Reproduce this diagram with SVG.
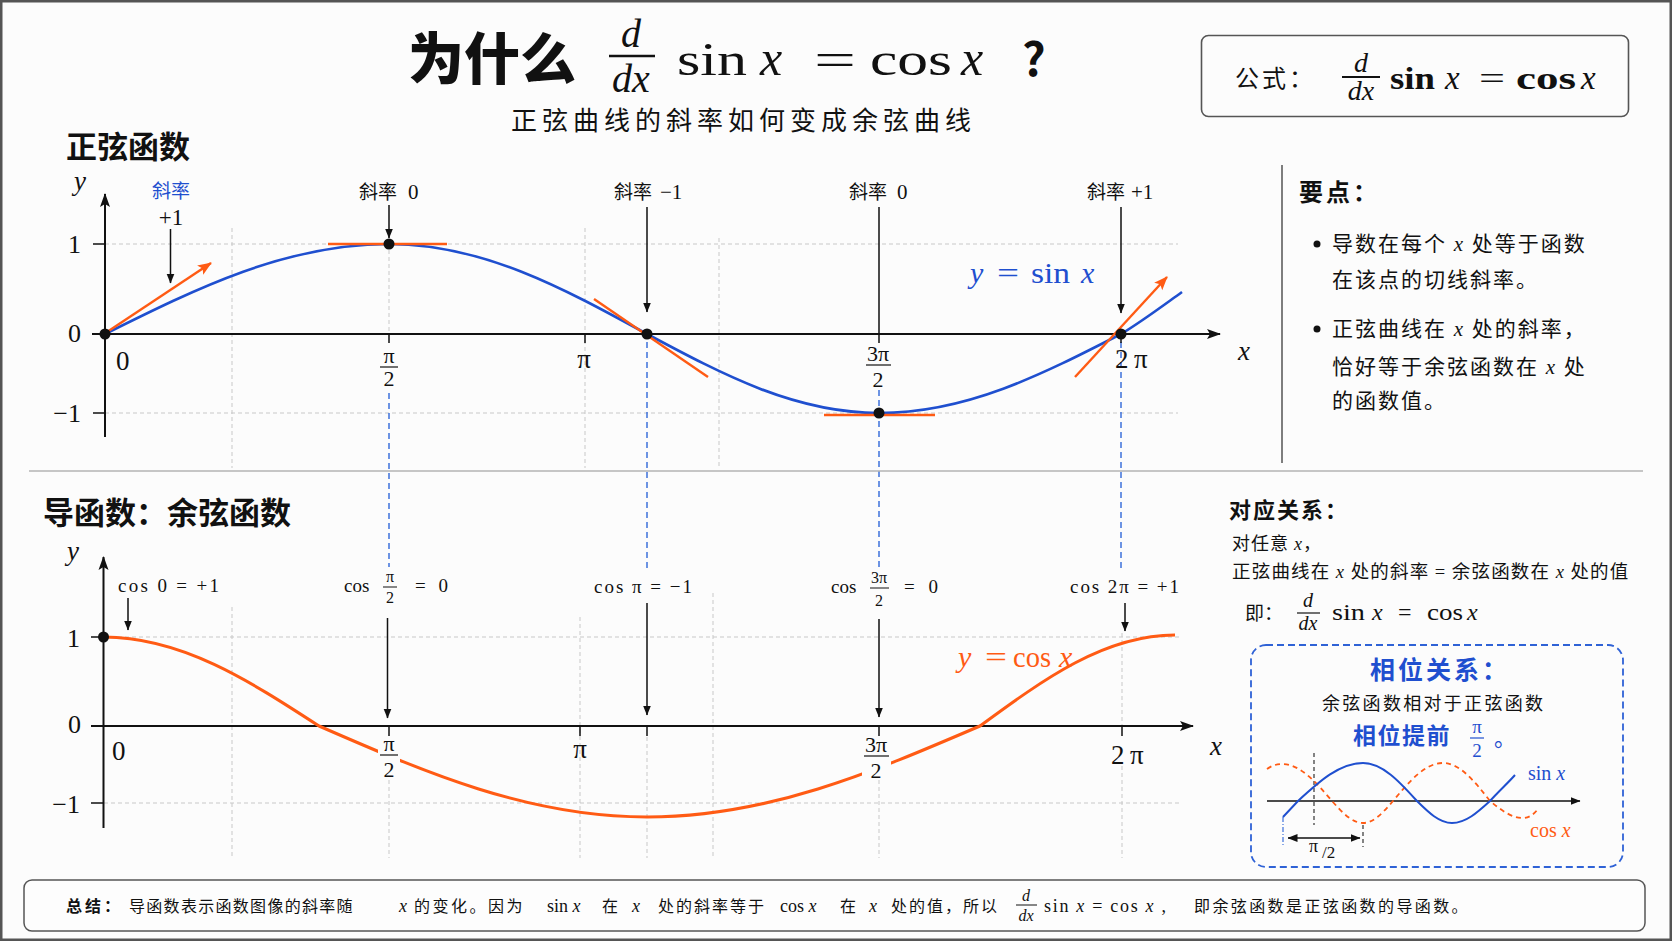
<svg xmlns="http://www.w3.org/2000/svg" width="1672" height="941" viewBox="0 0 1672 941">
<defs>
<style>
.cjk{font-family:"Noto Sans CJK SC","Noto Sans",sans-serif;fill:#111}
.m{font-family:"Liberation Serif","DejaVu Serif",serif;fill:#111}
.i{font-family:"Liberation Serif","DejaVu Serif",serif;font-style:italic;fill:#111}
.bo{font-weight:700}
.b{fill:#1f4fcf}
.o{fill:#ff5b14}
.grid{stroke:#c8c8c8;stroke-width:1;stroke-dasharray:4 3;fill:none}
.bd{stroke:#3d70da;stroke-width:1.5;stroke-dasharray:6 4;fill:none}
.ax{stroke:#111;stroke-width:2;fill:none}
.tk{stroke:#111;stroke-width:1.5;fill:none}
.ar{stroke:#111;stroke-width:1.5;fill:none;marker-end:url(#ah)}
.sinc{stroke:#1f4fcf;stroke-width:2.6;fill:none}
.cosc{stroke:#ff5b14;stroke-width:3;fill:none}
.tan{stroke:#ff5b14;stroke-width:2.4;fill:none}
.dot{fill:#111}
.kn{fill:#fcfcfc}
</style>
<marker id="ah" markerUnits="userSpaceOnUse" markerWidth="10" markerHeight="10" refX="9.5" refY="5" orient="auto"><path d="M0,1 L10,5 L0,9 z" fill="#111"/></marker>
<marker id="ah2" markerUnits="userSpaceOnUse" markerWidth="10" markerHeight="10" refX="9.5" refY="5" orient="auto-start-reverse"><path d="M0,1 L10,5 L0,9 z" fill="#111"/></marker>
<marker id="axh" markerUnits="userSpaceOnUse" markerWidth="14" markerHeight="12" refX="13" refY="6" orient="auto"><path d="M0,1 L14,6 L0,11 L3,6 z" fill="#111"/></marker>
<marker id="oh" markerUnits="userSpaceOnUse" markerWidth="14" markerHeight="12" refX="13" refY="6" orient="auto"><path d="M0,0.5 L14,6 L0,11.5 L3,6 z" fill="#ff5b14"/></marker>
</defs>

<rect x="1.25" y="1.25" width="1669.5" height="938.5" fill="#fcfcfc" stroke="#555" stroke-width="2.5"/>

<g id="title">
<text class="cjk" x="408" y="79" font-size="56" font-weight="900">为什么</text>
<text class="i" x="631" y="47" font-size="40" text-anchor="middle">d</text>
<line x1="609" y1="56" x2="655" y2="56" stroke="#111" stroke-width="2.5"/>
<text class="i" x="631" y="92" font-size="40" text-anchor="middle">dx</text>
<text class="m" x="677" y="75" font-size="46" textLength="70" lengthAdjust="spacingAndGlyphs">sin</text>
<text class="i" x="760" y="75" font-size="50">x</text>
<text class="m" x="814" y="75" font-size="46" textLength="42" lengthAdjust="spacingAndGlyphs">=</text>
<text class="m" x="870" y="75" font-size="46" textLength="82" lengthAdjust="spacingAndGlyphs">cos</text>
<text class="i" x="961" y="75" font-size="50">x</text>
<text class="cjk bo" x="1022" y="76" font-size="46">?</text>
<text class="cjk" x="511" y="130" font-size="26" letter-spacing="5">正弦曲线的斜率如何变成余弦曲线</text>
</g>

<g id="formula-box">
<rect x="1201.5" y="35.5" width="427" height="81" rx="7" fill="#fcfcfc" stroke="#555" stroke-width="1.6"/>
<text class="cjk" x="1235" y="87" font-size="24" letter-spacing="3">公式：</text>
<text class="i" x="1361" y="72" font-size="28" text-anchor="middle">d</text>
<line x1="1342" y1="77" x2="1380" y2="77" stroke="#111" stroke-width="1.8"/>
<text class="i" x="1361" y="100" font-size="28" text-anchor="middle">dx</text>
<text class="m bo" x="1390" y="89" font-size="32" textLength="45" lengthAdjust="spacingAndGlyphs">sin</text>
<text class="i" x="1445" y="89" font-size="33">x</text>
<text class="m" x="1479" y="89" font-size="32" textLength="26" lengthAdjust="spacingAndGlyphs">=</text>
<text class="m bo" x="1516" y="89" font-size="32" textLength="60" lengthAdjust="spacingAndGlyphs">cos</text>
<text class="i" x="1581" y="89" font-size="33">x</text>
</g>

<g id="sine-plot">
<text class="cjk bo" x="66" y="158" font-size="31">正弦函数</text>
<path class="grid" d="M105 244H1178 M105 413H1178 M232 228V468 M585 228V468 M719 238V468 M389 250V334"/>
<path class="bd" d="M389 393V567 M647 342V572 M879 390V406 M879 421V567 M1121 342V572"/>
<path class="ax" d="M92 334H1220" marker-end="url(#axh)"/>
<path class="ax" d="M105 437V194" marker-end="url(#axh)"/>
<path class="tk" d="M93 244H105 M93 413H105 M389 334V343 M585 334V343 M879 334V343 M1121 334V343"/>
<path class="sinc" d="M105 334 C197.6 287.9 286.2 244 389 244 C482.4 244 562.9 287.9 647 334 C722.7 374.5 795 413 879 413 C966.6 413 1042.1 374.5 1121 334 C1141 322 1161 307 1182 292"/>
<path class="tan" d="M107 332 L211 263" marker-end="url(#oh)"/>
<path class="tan" d="M328 244H447"/>
<path class="tan" d="M594 299L708 377"/>
<path class="tan" d="M824 415H935"/>
<path class="tan" d="M1075 377L1167 277" marker-end="url(#oh)"/>
<circle class="dot" cx="105" cy="334" r="5.5"/>
<circle class="dot" cx="389" cy="244" r="5.5"/>
<circle class="dot" cx="647" cy="334" r="5.5"/>
<circle class="dot" cx="879" cy="413" r="5.5"/>
<circle class="dot" cx="1121" cy="334" r="5.5"/>
<text class="i" x="74" y="190" font-size="27">y</text>
<text class="i" x="1238" y="360" font-size="27">x</text>
<text class="m" x="81" y="253" font-size="26" text-anchor="end">1</text>
<text class="m" x="81" y="342" font-size="26" text-anchor="end">0</text>
<text class="m" x="81" y="422" font-size="26" text-anchor="end">−1</text>
<text class="m" x="116" y="370" font-size="27">0</text>
<text class="m" x="389" y="363" font-size="22" text-anchor="middle">π</text>
<line x1="380" y1="367" x2="398" y2="367" stroke="#111" stroke-width="1.2"/>
<text class="m" x="389" y="386" font-size="22" text-anchor="middle">2</text>
<text class="m" x="584" y="368" font-size="27" text-anchor="middle">π</text>
<text class="m" x="878" y="361" font-size="22" text-anchor="middle">3π</text>
<line x1="866" y1="365" x2="891" y2="365" stroke="#111" stroke-width="1.2"/>
<text class="m" x="878" y="387" font-size="22" text-anchor="middle">2</text>
<text class="m" x="1115" y="368" font-size="27">2</text>
<text class="m" x="1134" y="368" font-size="27">π</text>
<text class="cjk b" x="171" y="198" font-size="19" text-anchor="middle">斜率</text>
<text class="m" x="171" y="225" font-size="23" text-anchor="middle">+1</text>
<text class="cjk" x="359" y="199" font-size="19">斜率</text>
<text class="m" x="408" y="199" font-size="21">0</text>
<text class="cjk" x="614" y="199" font-size="19">斜率</text>
<text class="m" x="660" y="199" font-size="21">−1</text>
<text class="cjk" x="849" y="199" font-size="19">斜率</text>
<text class="m" x="897" y="199" font-size="21">0</text>
<text class="cjk" x="1087" y="199" font-size="19">斜率</text>
<text class="m" x="1131" y="199" font-size="21">+1</text>
<text class="i b" x="970" y="283" font-size="30">y</text>
<text class="m b" x="997" y="283" font-size="30" textLength="22" lengthAdjust="spacingAndGlyphs">=</text>
<text class="m b" x="1031" y="283" font-size="30" textLength="39" lengthAdjust="spacingAndGlyphs">sin</text>
<text class="i b" x="1081" y="283" font-size="30">x</text>
</g>

<g id="separators">
<line x1="29" y1="471" x2="1643" y2="471" stroke="#b5b5b5" stroke-width="1.5"/>
<line x1="1282" y1="165" x2="1282" y2="463" stroke="#555" stroke-width="1.5"/>
</g>

<g id="cosine-plot">
<text class="cjk bo" x="43" y="524" font-size="31">导函数：余弦函数</text>
<path class="grid" d="M104 637H1181 M104 803H1181 M232 607V858 M580 617V858 M713 593V858 M389 780V858 M647 737V858 M879 780V858 M1122 633V726 M1122 766V858"/>
<path class="ax" d="M91 726H1193" marker-end="url(#axh)"/>
<path class="ax" d="M103.5 828V557" marker-end="url(#axh)"/>
<path class="tk" d="M91 637H104 M91 803H104 M389 726V736 M580 726V736 M647 726V736 M879 726V736 M1122 726V736"/>
<path class="cosc" d="M103.5 637 C181.5 637 248.7 680.4 319 726 C426 772.6 528.3 817 647 817 C767.5 817 871.4 772.6 980 726 C1043.6 679.4 1104.4 635 1175 635"/>
<rect class="kn" x="378" y="738" width="22" height="42"/>
<rect class="kn" x="862" y="737" width="29" height="43"/>
<circle class="dot" cx="103.5" cy="637" r="5.5"/>
<text class="i" x="67" y="560" font-size="27">y</text>
<text class="i" x="1210" y="755" font-size="27">x</text>
<text class="m" x="80" y="647" font-size="26" text-anchor="end">1</text>
<text class="m" x="81" y="733" font-size="26" text-anchor="end">0</text>
<text class="m" x="80" y="813" font-size="26" text-anchor="end">−1</text>
<text class="m" x="112" y="760" font-size="27">0</text>
<text class="m" x="389" y="751" font-size="22" text-anchor="middle">π</text>
<line x1="380" y1="755" x2="398" y2="755" stroke="#111" stroke-width="1.2"/>
<text class="m" x="389" y="777" font-size="22" text-anchor="middle">2</text>
<text class="m" x="580" y="758" font-size="27" text-anchor="middle">π</text>
<text class="m" x="876" y="752" font-size="22" text-anchor="middle">3π</text>
<line x1="864" y1="756" x2="889" y2="756" stroke="#111" stroke-width="1.2"/>
<text class="m" x="876" y="778" font-size="22" text-anchor="middle">2</text>
<text class="m" x="1111" y="764" font-size="27">2</text>
<text class="m" x="1130" y="764" font-size="27">π</text>
<text class="m" x="118" y="592" font-size="19" textLength="101">cos 0 = +1</text>
<text class="m" x="344" y="592" font-size="19">cos</text>
<text class="m" x="390" y="582" font-size="16" text-anchor="middle">π</text>
<line x1="383" y1="587" x2="397" y2="587" stroke="#111" stroke-width="1"/>
<text class="m" x="390" y="603" font-size="16" text-anchor="middle">2</text>
<text class="m" x="415" y="592" font-size="19" textLength="33">= 0</text>
<text class="m" x="594" y="593" font-size="19" textLength="98">cos π = −1</text>
<text class="m" x="831" y="593" font-size="19">cos</text>
<text class="m" x="879" y="583" font-size="16" text-anchor="middle">3π</text>
<line x1="870" y1="588" x2="889" y2="588" stroke="#111" stroke-width="1"/>
<text class="m" x="879" y="606" font-size="16" text-anchor="middle">2</text>
<text class="m" x="904" y="593" font-size="19" textLength="34">= 0</text>
<text class="m" x="1070" y="593" font-size="19" textLength="109">cos 2π = +1</text>
<text class="i o" x="958" y="667" font-size="30">y</text>
<text class="m o" x="985" y="667" font-size="30" textLength="22" lengthAdjust="spacingAndGlyphs">=</text>
<text class="m o" x="1013" y="667" font-size="30" textLength="38" lengthAdjust="spacingAndGlyphs">cos</text>
<text class="i o" x="1059" y="667" font-size="30">x</text>
</g>

<g id="connectors">
<path class="ar" d="M170.5 229V283"/>
<path class="ar" d="M389 205V238"/>
<path class="ar" d="M647 207V312"/>
<path class="tk" d="M879 207V334"/>
<path class="ar" d="M1121 207V313"/>
<path class="ar" d="M128 598V630"/>
<path class="ar" d="M387.5 618V718"/>
<path class="ar" d="M647 603V715"/>
<path class="ar" d="M879 619V717"/>
<path class="ar" d="M1125 603V631"/>
</g>

<g id="key-points">
<text class="cjk bo" x="1299" y="201" font-size="24" letter-spacing="3">要点：</text>
<circle cx="1317" cy="244" r="3.5" fill="#111"/>
<circle cx="1317" cy="329" r="3.5" fill="#111"/>
<g class="cjk" font-size="21" letter-spacing="2">
<text x="1332" y="251">导数在每个 <tspan class="i">x</tspan> 处等于函数</text>
<text x="1332" y="287">在该点的切线斜率。</text>
<text x="1332" y="336">正弦曲线在 <tspan class="i">x</tspan> 处的斜率，</text>
<text x="1332" y="374">恰好等于余弦函数在 <tspan class="i">x</tspan> 处</text>
<text x="1332" y="408">的函数值。</text>
</g>
</g>

<g id="correspondence">
<text class="cjk bo" x="1229" y="518" font-size="22" letter-spacing="2">对应关系：</text>
<text class="cjk" x="1232" y="550" font-size="18" letter-spacing="1">对任意 <tspan class="i">x</tspan>，</text>
<text class="cjk" x="1232" y="578" font-size="18.5" letter-spacing="1.2">正弦曲线在 <tspan class="i">x</tspan> 处的斜率 <tspan class="m">=</tspan> 余弦函数在 <tspan class="i">x</tspan> 处的值</text>
<text class="cjk" x="1245" y="620" font-size="19">即：</text>
<text class="i" x="1308" y="607" font-size="20" text-anchor="middle">d</text>
<line x1="1297" y1="613" x2="1320" y2="613" stroke="#111" stroke-width="1.2"/>
<text class="i" x="1308" y="630" font-size="20" text-anchor="middle">dx</text>
<text class="m" x="1332" y="620" font-size="24" textLength="33" lengthAdjust="spacingAndGlyphs">sin</text>
<text class="i" x="1372" y="620" font-size="24">x</text>
<text class="m" x="1398" y="620" font-size="24">=</text>
<text class="m" x="1427" y="620" font-size="24" textLength="36" lengthAdjust="spacingAndGlyphs">cos</text>
<text class="i" x="1467" y="620" font-size="24">x</text>
</g>

<g id="phase-box">
<rect x="1251" y="645" width="372" height="222" rx="15" fill="none" stroke="#2f62d6" stroke-width="1.8" stroke-dasharray="7 4"/>
<text class="cjk bo b" x="1370" y="679" font-size="25" letter-spacing="3">相位关系：</text>
<text class="cjk" x="1322" y="710" font-size="18" letter-spacing="2.3">余弦函数相对于正弦函数</text>
<text class="cjk bo b" x="1353" y="744" font-size="23" letter-spacing="1.5">相位提前</text>
<text class="m b" x="1477" y="733" font-size="19" text-anchor="middle">π</text>
<line x1="1470" y1="738" x2="1484" y2="738" stroke="#1f4fcf" stroke-width="1.2"/>
<text class="m b" x="1477" y="757" font-size="19" text-anchor="middle">2</text>
<text class="cjk b" x="1494" y="746" font-size="22">。</text>
<path d="M1267 801H1580" stroke="#111" stroke-width="1.5" marker-end="url(#ah)"/>
<path d="M1314 753V825 M1363 825V847" stroke="#333" stroke-width="1.2" stroke-dasharray="4 3" fill="none"/>
<path d="M1283 817V847" stroke="#3d70da" stroke-width="1.2" stroke-dasharray="5 2 1 2" fill="none"/>
<path d="M1267 769 Q1274 764 1282 764 C1300.1 764 1315.7 782 1332 801 C1342.1 812.3 1351.8 823 1363 823 C1373.9 823 1383.2 812.3 1393 801 C1409.3 781.5 1424.9 763 1443 763 C1460 763 1474.7 781.5 1490 801 C1500.8 809.7 1511.1 818 1523 818 Q1531 818 1538 809" stroke="#ff5b14" stroke-width="1.8" stroke-dasharray="5 4" fill="none"/>
<path d="M1283 817 L1298 801 C1319.2 781.5 1339.5 763 1363 763 C1382.5 763 1399.4 781.5 1417 801 C1428.4 812.3 1439.3 823 1452 823 C1465.8 823 1477.6 812.3 1490 801 C1498 792 1507 784 1515 775" stroke="#1f4fcf" stroke-width="2" fill="none"/>
<path d="M1288 838H1360" stroke="#111" stroke-width="1.4" marker-start="url(#ah2)" marker-end="url(#ah2)"/>
<text class="m" x="1309" y="852" font-size="18">π</text>
<text class="m" x="1322" y="858" font-size="17">/2</text>
<text class="m b" x="1528" y="780" font-size="20">sin <tspan class="i b">x</tspan></text>
<text class="m o" x="1530" y="837" font-size="20">cos <tspan class="i o">x</tspan></text>
</g>

<g id="summary">
<rect x="24" y="880" width="1621" height="51" rx="8" fill="#fdfdfd" stroke="#555" stroke-width="1.5"/>
<g font-size="16">
<text class="cjk bo" x="66" y="912" letter-spacing="3">总结：</text>
<text class="cjk" x="129" y="912" letter-spacing="1.3">导函数表示函数图像的斜率随</text>
<text class="i" x="399" y="912" font-size="18">x</text>
<text class="cjk" x="414" y="912" letter-spacing="2.5">的变化。因为</text>
<text class="m" x="547" y="912" font-size="18">sin <tspan class="i">x</tspan></text>
<text class="cjk" x="602" y="912">在</text>
<text class="i" x="632" y="912" font-size="18">x</text>
<text class="cjk" x="658" y="912" letter-spacing="2">处的斜率等于</text>
<text class="m" x="780" y="912" font-size="18">cos <tspan class="i">x</tspan></text>
<text class="cjk" x="840" y="912">在</text>
<text class="i" x="869" y="912" font-size="18">x</text>
<text class="cjk" x="891" y="912" letter-spacing="2">处的值，所以</text>
<text class="i" x="1026" y="901" font-size="16" text-anchor="middle">d</text>
<line x1="1016" y1="905" x2="1037" y2="905" stroke="#111" stroke-width="1"/>
<text class="i" x="1026" y="921" font-size="16" text-anchor="middle">dx</text>
<text class="m" x="1044" y="912" font-size="18" textLength="122">sin <tspan class="i">x</tspan> = cos <tspan class="i">x</tspan> ,</text>
<text class="cjk" x="1194" y="912" letter-spacing="2.4">即余弦函数是正弦函数的导函数。</text>
</g>
</g>
</svg>
